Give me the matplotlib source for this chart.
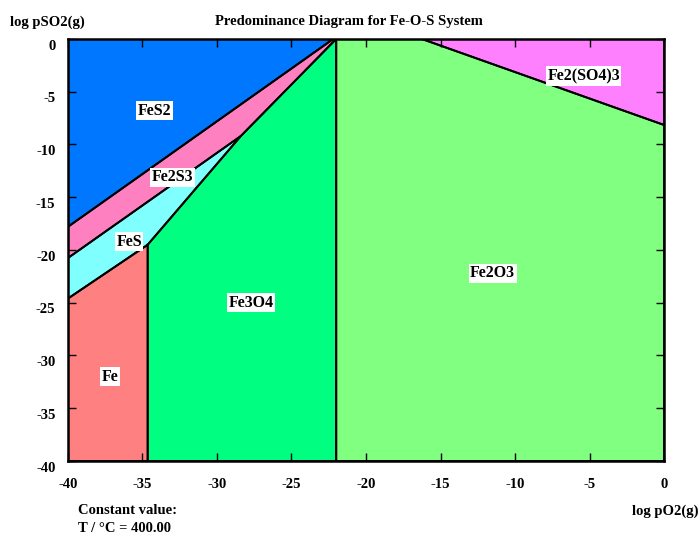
import numpy as np
import matplotlib
matplotlib.use("Agg")
import matplotlib.pyplot as plt
import matplotlib.transforms as mtransforms

plt.rcParams['font.family'] = ['Liberation Serif', 'DejaVu Serif']
plt.rcParams['font.weight'] = 'bold'
plt.rcParams['axes.unicode_minus'] = False

#--------------phase fields: boundary vertices (log pO2, log pSO2)------------------
phases = ["FeS2", "Fe2S3", "FeS", "Fe", "Fe3O4", "Fe2O3", "Fe2(SO4)3"]
colors = ["#0077FF", "#FF80C0", "#80FFFF", "#FF8080", "#00FF80", "#80FF80", "#FF80FF"]

fes2_x = [-40, -40, -22.2]
fes2_y = [0, -17.8, 0]
fe2s3_x = [-40, -22.2, -22.0, -28.4, -40]
fe2s3_y = [-17.8, 0, 0, -9.2, -20.76]
fes_x = [-40, -28.4, -34.65, -40]
fes_y = [-20.76, -9.2, -19.5, -24.6]
fe_x = [-40, -34.65, -34.65, -40]
fe_y = [-24.6, -19.5, -40, -40]
fe3o4_x = [-34.65, -28.4, -22.0, -22.0, -34.65]
fe3o4_y = [-19.5, -9.2, 0, -40, -40]
fe2o3_x = [-22.0, -16.25, 0, 0, -22.0]
fe2o3_y = [0, 0, -8.15, -40, -40]
fe2so43_x = [-16.25, 0, 0]
fe2so43_y = [0, 0, -8.15]

# label positions
label_x = [-34.2, -33.0, -35.9, -37.2, -27.7, -11.5, -5.4]
label_y = [-6.8, -13.1, -19.2, -32.0, -25.0, -22.2, -3.5]

xs = [fes2_x, fe2s3_x, fes_x, fe_x, fe3o4_x, fe2o3_x, fe2so43_x]
ys = [fes2_y, fe2s3_y, fes_y, fe_y, fe3o4_y, fe2o3_y, fe2so43_y]

#-------------plot the figure-------------------------------
fig = plt.figure(figsize=(7, 5.34), dpi=100)
ax = fig.add_axes([0.0971, 0.1367, 0.8515, 0.7903])

for px, py, c in zip(xs, ys, colors):
    ax.fill(px, py, color=c, lw=0, zorder=1)
    ax.plot(px + [px[0]], py + [py[0]], color="black", lw=1.4, zorder=2)

for name, lx, ly in zip(phases, label_x, label_y):
    ax.text(lx, ly, name, ha="center", va="center", fontsize=11.5, fontweight="bold",
            bbox=dict(facecolor="white", edgecolor="none", pad=1.2), zorder=3)

#------------axes and extra stuff-------------------------------
ax.set_xlim(-40, 0)
ax.set_ylim(-40, 0)
ax.set_xticks(np.arange(-40, 1, 5))
ax.set_yticks(np.arange(-40, 1, 5))
ax.tick_params(direction="in", length=6, width=1, top=True, right=True, labelsize=10.5)
ax.tick_params(axis="x", pad=12)
ax.tick_params(axis="y", pad=9)
for lab in ax.get_xticklabels() + ax.get_yticklabels():
    lab.set_fontweight("bold")
offset = mtransforms.ScaledTranslation(0, -4 / 72, fig.dpi_scale_trans)
for lab in ax.get_yticklabels():
    lab.set_transform(lab.get_transform() + offset)
for s in ax.spines.values():
    s.set_linewidth(1.8)

fig.text(349 / 700, 1 - 22 / 534, "Predominance Diagram for Fe-O-S System", ha="center", va="center",
         fontsize=10.5, fontweight="bold")
fig.text(10 / 700, 1 - 22 / 534, "log pSO2(g)", ha="left", va="center", fontsize=10.5, fontweight="bold")
fig.text(699 / 700, 1 - 511 / 534, "log pO2(g)", ha="right", va="center", fontsize=10.5, fontweight="bold")
fig.text(78 / 700, 1 - 511 / 534, "Constant value:", ha="left", va="center", fontsize=10.5, fontweight="bold")
fig.text(78 / 700, 1 - 529 / 534, "T / \u00b0C = 400.00", ha="left", va="center", fontsize=10.5, fontweight="bold")

plt.savefig("out.png", dpi=100)
